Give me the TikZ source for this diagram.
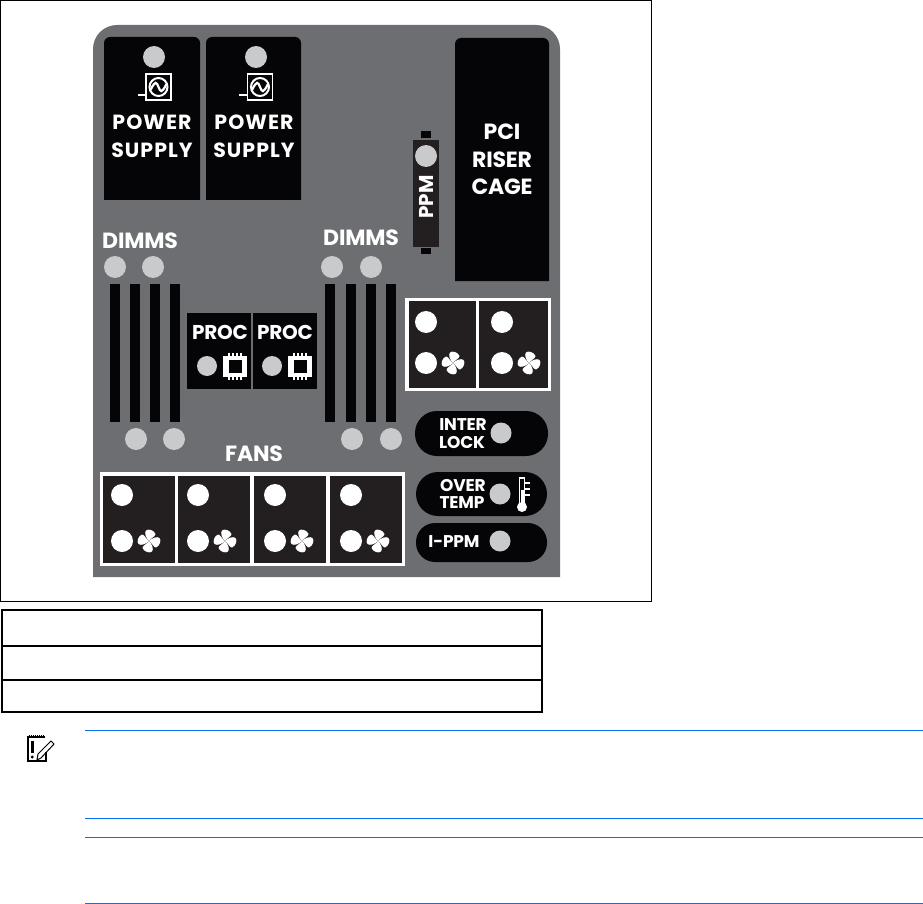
\documentclass[tikz,border=0pt]{standalone}
\usepackage{fontspec}
\usepackage{tikz}
\usetikzlibrary{calc,positioning}
\newfontfamily\panelfont[LetterSpace=5]{Poppins}
\newfontfamily\tightfont[LetterSpace=-1]{Poppins}
\definecolor{panelgray}{HTML}{6D6E71}
\definecolor{ledgray}{HTML}{C9CACC}
\definecolor{boxblack}{HTML}{050507}
\definecolor{fanblack}{HTML}{231F20}
\definecolor{ruleblue}{HTML}{0A6FF0}
\tikzset{
    wide/.style={text=white, inner sep=0pt, font=\panelfont\bfseries\fontsize{20.5}{20.5}\selectfont},
    narrow/.style={text=white, inner sep=0pt, font=\tightfont\bfseries\fontsize{20}{20}\selectfont},
    tall/.style={text=white, inner sep=0pt, font=\tightfont\bfseries\fontsize{22}{22}\selectfont},
    small/.style={text=white, inner sep=0pt, font=\tightfont\bfseries\fontsize{17}{17}\selectfont},
    rule/.style={ruleblue, line width=1pt},
    fanblade/.pic={
        \fill[white] (0,0) .. controls (-3,-3) and (-5,-8) .. (-3,-10.5) .. controls (-1,-12.5) and (5,-11) .. (6.5,-7) .. controls (7,-5) and (2,-3) .. (0,0);
    },
    fanicon/.pic={
        \pic[rotate=0] {fanblade};
        \pic[rotate=90] {fanblade};
        \pic[rotate=180] {fanblade};
        \pic[rotate=270] {fanblade};
    },
    powericon/.pic={
        \draw[white, line width=1.6pt] (-12.5,-13) rectangle (12.5,13);
        \draw[white, line width=1.6pt] (-12.5,8) -- (-21,8);
        \draw[white, line width=2pt] (0,0) circle (9pt);
        \draw[white, line width=2.2pt] (-8,3) .. controls (-3,-7) and (-2,-5) .. (0,0) .. controls (2,5) and (3,7) .. (8,-3);
    },
    chipicon/.pic={
        \fill[white] (-12,-10.5) rectangle (12,10.5);
        \fill[boxblack] (-6.5,-6.5) rectangle (6.5,6.5);
        \draw[white, line width=1.4pt] (-6,-13.5) -- (-6,-9) (-2,-13.5) -- (-2,-9) (2,-13.5) -- (2,-9) (6,-13.5) -- (6,-9);
        \draw[white, line width=1.4pt] (-6,13.5) -- (-6,9) (-2,13.5) -- (-2,9) (2,13.5) -- (2,9) (6,13.5) -- (6,9);
    },
}
\begin{document}
\begin{tikzpicture}[x=1pt,y=-1pt]
    \useasboundingbox (0,0) rectangle (923,904);
    % frame and empty table
    \draw[black, line width=0.9pt] (0.5,0.5) rectangle (651,601);
    \draw[black, line width=1.2pt] (2,610) rectangle (542,712);
    \draw[black, line width=1.2pt] (2,646) -- (542,646);
    \draw[black, line width=1.2pt] (2,680) -- (542,680);
    % panel
    \fill[panelgray, rounded corners=24pt] (93,577) [sharp corners] -- (93,577) [rounded corners=24pt] -- (93,25) -- (560,25) [sharp corners] -- (560,577) -- cycle;
    % power supplies
    \fill[boxblack, rounded corners=6pt] (104,200) [sharp corners] -- (200,200) [rounded corners=6pt] -- (200,37) -- (104,37) [sharp corners] -- (104,200) -- cycle;
    \fill[boxblack, rounded corners=6pt] (206,200) [sharp corners] -- (301,200) [rounded corners=6pt] -- (301,37) -- (206,37) [sharp corners] -- (206,200) -- cycle;
    \fill[ledgray] (154,57) circle (11pt);
    \fill[ledgray] (256,57) circle (11pt);
    \pic at (158.5,87) {powericon};
    \pic at (260,87) {powericon};
    \node[wide] (power1) at (152,122) {POWER};
    \node[wide] (supply1) at (152,150) {SUPPLY};
    \node[wide] (power2) at (254,122) {POWER};
    \node[wide] (supply2) at (254,150) {SUPPLY};
    % riser cage
    \fill[boxblack, rounded corners=6pt] (455,281) [sharp corners] -- (549,281) [rounded corners=6pt] -- (549,38) -- (455,38) [sharp corners] -- (455,281) -- cycle;
    \node[tall] (pci) at (502,132) {PCI};
    \node[tall] (riser) at (502,160) {RISER};
    \node[tall] (cage) at (502,187) {CAGE};
    % ppm
    \fill[boxblack] (421,131) rectangle (431,138);
    \fill[boxblack] (421,248) rectangle (431,254);
    \fill[fanblack] (413,140) rectangle (439,247);
    \fill[ledgray] (426,156) circle (11pt);
    \node[narrow, rotate=90] (ppm) at (426,197) {PPM};
    % dimms
    \node[tall] (dimmsl) at (140,241) {DIMMS};
    \node[tall] (dimmsr) at (361,238) {DIMMS};
    \fill[ledgray] (115,267) circle (11pt);
    \fill[ledgray] (153,267) circle (11pt);
    \fill[ledgray] (332,267) circle (11pt);
    \fill[ledgray] (371,267) circle (11pt);
    \fill[ledgray] (136,439) circle (11pt);
    \fill[ledgray] (174,439) circle (11pt);
    \fill[ledgray] (352,439) circle (11pt);
    \fill[ledgray] (391,439) circle (11pt);
    \foreach \barx in {110,130,150,170,325,346,366,386}
        \fill[boxblack] (\barx,284) rectangle (\barx+10,422);
    % processors
    \fill[boxblack] (187,313) rectangle (251,389);
    \fill[boxblack] (252.5,313) rectangle (317,389);
    \node[narrow] (proc1) at (220,332) {PROC};
    \node[narrow] (proc2) at (285,332) {PROC};
    \fill[ledgray] (207,366) circle (10pt);
    \fill[ledgray] (272,366) circle (10pt);
    \pic at (235,366) {chipicon};
    \pic at (300,366) {chipicon};
    % fans
    \node[tall] (fans) at (254,454) {FANS};
    \fill[white] (100,472) rectangle (405,566);
    \fill[fanblack] (103,476) rectangle (175,563);
    \fill[fanblack] (178,476) rectangle (250,563);
    \fill[fanblack] (254,476) rectangle (326,563);
    \fill[fanblack] (330,476) rectangle (402,563);
    \foreach \fanx in {122,198,275,351} {
        \fill[white] (\fanx,495) circle (11pt);
        \fill[white] (\fanx,541) circle (11pt);
        \pic at (\fanx+27,541) {fanicon};
    }
    \fill[white] (405,298) rectangle (551,391);
    \fill[fanblack] (409,301) rectangle (476,388);
    \fill[fanblack] (479,301) rectangle (548,388);
    \foreach \fanx in {426,502} {
        \fill[white] (\fanx,322) circle (11pt);
        \fill[white] (\fanx,363) circle (11pt);
        \pic at (\fanx+27,363) {fanicon};
    }
    % status pills
    \fill[boxblack, rounded corners=22pt] (415,411) rectangle (548,456);
    \fill[boxblack, rounded corners=22pt] (416,472) rectangle (547,516);
    \fill[boxblack, rounded corners=19pt] (416,523) rectangle (547,562);
    \node[small] (inter) at (463,425) {INTER};
    \node[small] (lock) at (462,443) {LOCK};
    \node[small] (over) at (463,486) {OVER};
    \node[small] (temp) at (462,503) {TEMP};
    \node[small] (ippm) at (454,542) {I-PPM};
    \fill[ledgray] (501,433) circle (10.5pt);
    \fill[ledgray] (500,494) circle (10.5pt);
    \fill[ledgray] (500,541) circle (10.5pt);
    % thermometer
    \draw[white, line width=1.4pt] (519.5,506) -- (519.5,478) -- (524.5,478) -- (524.5,506);
    \fill[white] (522,507) circle (5pt);
    \fill[white] (520.5,490) rectangle (523.5,506);
    \draw[white, line width=1.4pt] (525,483) -- (530,483);
    \draw[white, line width=1.4pt] (525,489) -- (530,489);
    \draw[white, line width=1.4pt] (525,495) -- (530,495);
    % notepad
    \draw[black, line width=1.3pt] (45,737) -- (28,737) -- (28,761) -- (46,761) -- (46,752);
    \draw[black, line width=1pt, densely dotted] (29,735) -- (44,735);
    \fill[black] (31,741) rectangle (33.5,753);
    \fill[black] (32.2,757) circle (1.6pt);
    \draw[black, line width=1pt] (37,760) -- (38,754) -- (51,741) -- (54,744) -- (41,758) -- cycle;
    % rules
    \draw[rule] (85,730.5) -- (923,730.5);
    \draw[rule] (85,818.5) -- (923,818.5);
    \draw[rule] (85,837.5) -- (923,837.5);
    \draw[rule] (85,903) -- (923,903);
\end{tikzpicture}
\end{document}
